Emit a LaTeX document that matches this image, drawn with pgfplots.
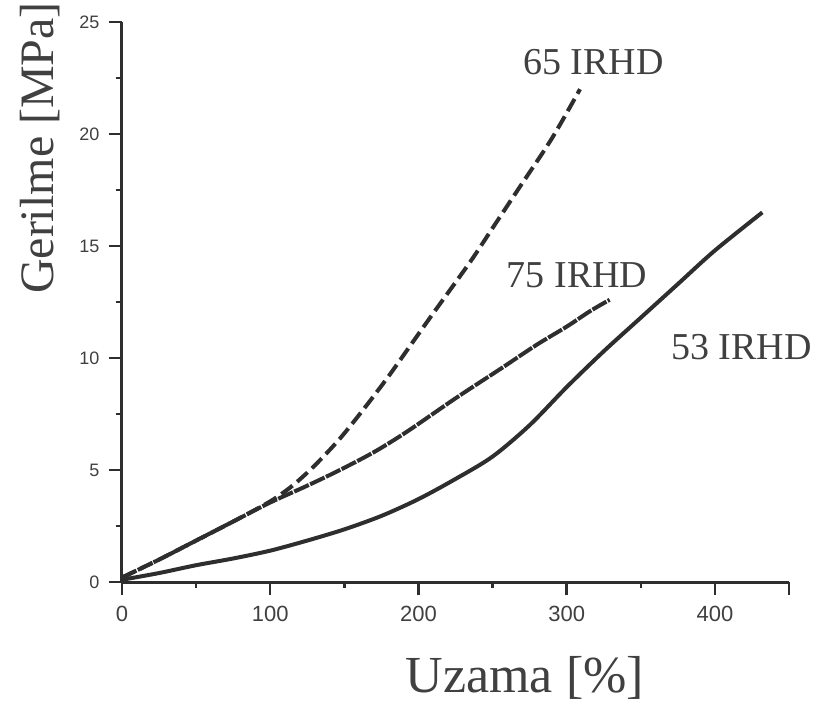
\documentclass[border=0pt]{standalone}
\usepackage{fontspec}
\setmainfont{Liberation Serif}
\newfontfamily\tickfont{Liberation Sans}
\usepackage{pgfplots}
\pgfplotsset{compat=1.18}
\definecolor{ink}{HTML}{2E2E2E}
\begin{document}
\begin{tikzpicture}
\begin{axis}[
 name=ax,
 scale only axis,
 width=667pt, height=560pt,
 xmin=0, xmax=450, ymin=0, ymax=25,
 axis x line=bottom, axis y line=left,
 axis line style={-, line width=3pt, ink},
 xtick={0,100,200,300,400,450},
 xticklabels={0,100,200,300,400,{}},
 minor xtick={50,150,250,350},
 ytick={0,5,10,15,20,25},
 minor ytick={2.5,7.5,12.5,17.5,22.5},
 tick align=outside,
 major tick length=13pt, minor tick length=6pt,
 tick style={line width=2.5pt, ink},
 /pgf/number format/assume math mode=true,
 xticklabel style={font=\tickfont\fontsize{22}{24}\selectfont, text=black!75, yshift=-8pt},
 yticklabel style={font=\tickfont\fontsize{18}{20}\selectfont, text=black!75, xshift=-6pt},
 xlabel={Uzama [\%]},
 ylabel={Gerilme [MPa]},
 xlabel style={font=\fontsize{52}{60}\selectfont, text=black!75, at={(axis description cs:0.604,-0.171)}, anchor=center},
 ylabel style={font=\fontsize{48}{56}\selectfont, text=black!75, at={(axis description cs:-0.123,0.775)}, anchor=center},
 clip=false,
]
% 65 IRHD (dashed)
\addplot[ink, line width=4pt, smooth, dash pattern=on 14pt off 6pt] coordinates {
(0,0.2) (25,1.0) (50,1.85) (75,2.7) (100,3.6) (115,4.3) (130,5.2) (147,6.4)
(164,7.8) (180,9.2) (195,10.6) (210,12.0) (235,14.3) (250,15.8) (268,17.6)
(290,19.8) (309,22.0)};
% 75 IRHD (densely dotted)
\addplot[ink, line width=4pt, smooth, dash pattern=on 16pt off 1.5pt] coordinates {
(0,0.2) (25,1.0) (50,1.85) (75,2.7) (100,3.55) (125,4.3) (147,5.0) (170,5.8)
(192,6.7) (225,8.2) (255,9.5) (280,10.6) (300,11.4) (316,12.1) (329,12.6)};
% 53 IRHD (solid)
\addplot[ink, line width=4pt, smooth] coordinates {
(0,0.1) (25,0.4) (50,0.75) (75,1.05) (100,1.4) (125,1.85) (150,2.35) (175,2.95)
(200,3.7) (225,4.6) (250,5.6) (275,7.0) (300,8.7) (325,10.3) (350,11.8)
(375,13.3) (400,14.8) (432,16.5)};
\node[font=\fontsize{38}{44}\selectfont, text=black!75] at (axis cs:318,23.2) {65 IRHD};
\node[font=\fontsize{38}{44}\selectfont, text=black!75] at (axis cs:307,13.7) {75 IRHD};
\node[font=\fontsize{38}{44}\selectfont, text=black!75] at (axis cs:418,10.5) {53 IRHD};
\end{axis}
\pgfresetboundingbox
\path (ax.south west) ++(-122pt,-131pt) rectangle ++(821pt,713pt);
\end{tikzpicture}
\end{document}
